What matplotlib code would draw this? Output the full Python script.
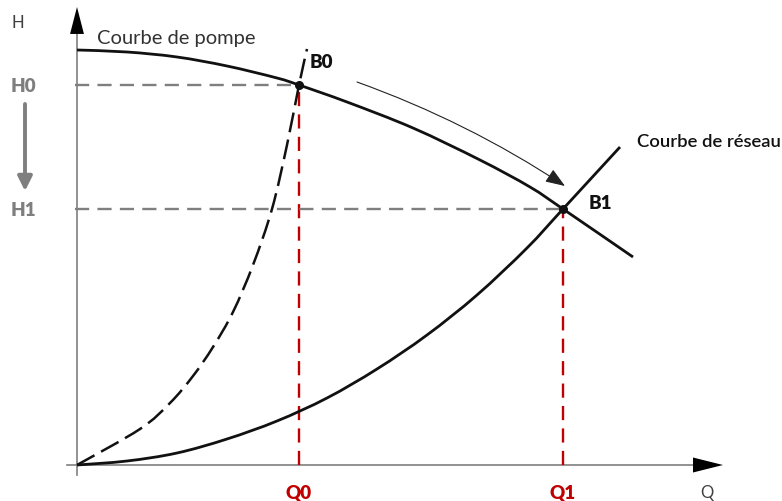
import matplotlib.pyplot as plt
from matplotlib.path import Path
from matplotlib.patches import PathPatch

# pump characteristic (Q, H)
pump_q = [0.0, 0.5, 1.0, 1.5, 2.0, 2.22, 2.70, 3.36, 4.03, 4.53, 4.86, 5.56]
pump_h = [4.15, 4.13, 4.08, 3.99, 3.87, 3.80, 3.63, 3.37, 3.05, 2.78, 2.56, 2.08]

# network curve after throttling (dashed) and final network curve (solid)
net0_q = [0.0, 0.63, 0.93, 1.16, 1.36, 1.56, 1.76, 1.95, 2.10, 2.22, 2.30]
net0_h = [0.0, 0.36, 0.62, 0.89, 1.18, 1.53, 2.00, 2.56, 3.20, 3.80, 4.16]

net1_q = [0.0, 0.5, 1.0, 1.5, 2.0, 2.5, 3.0, 3.5, 4.0, 4.5, 4.86, 5.43]
net1_h = [0.0, 0.04, 0.12, 0.26, 0.44, 0.67, 0.96, 1.30, 1.70, 2.17, 2.56, 3.18]

# operating points
op_q = [2.22, 4.86]
op_h = [3.80, 2.56]
op_labels = ["B0", "B1"]
q_labels = ["Q0", "Q1"]
h_labels = ["H0", "H1"]

GRAY = "#7f7f7f"
RED = "#c00000"
INK = "#111111"

plt.rcParams["font.family"] = ["Lato", "DejaVu Sans"]


def smooth_curve(xs, ys, **kw):
    # Catmull-Rom through the points, drawn as cubic Bezier segments
    pts = list(zip(xs, ys))
    verts = [pts[0]]
    codes = [Path.MOVETO]
    n = len(pts)
    for i in range(n - 1):
        p0 = pts[max(i - 1, 0)]
        p1 = pts[i]
        p2 = pts[i + 1]
        p3 = pts[min(i + 2, n - 1)]
        c1 = (p1[0] + (p2[0] - p0[0]) / 6, p1[1] + (p2[1] - p0[1]) / 6)
        c2 = (p2[0] - (p3[0] - p1[0]) / 6, p2[1] - (p3[1] - p1[1]) / 6)
        verts += [c1, c2, p2]
        codes += [Path.CURVE4] * 3
    return PathPatch(Path(verts, codes), fill=False, **kw)


fig = plt.figure(figsize=(7.82, 5.02), dpi=100)
ax = fig.add_axes([0, 0, 1, 1])
ax.set_xlim(-0.77, 7.05)
ax.set_ylim(-0.36, 4.66)
ax.axis("off")

# axes with arrow heads
ax.plot([0, 0], [-0.1, 4.35], color=GRAY, lw=1.2, zorder=1)
ax.plot([-0.1, 6.2], [0, 0], color=GRAY, lw=1.2, zorder=1)
ax.annotate("", xy=(0, 4.58), xytext=(0, 4.31),
            arrowprops=dict(arrowstyle="-|>,head_length=1.94,head_width=0.5",
                            mutation_scale=10, color="black", lw=0,
                            shrinkA=0, shrinkB=0))
ax.annotate("", xy=(6.46, 0), xytext=(6.16, 0),
            arrowprops=dict(arrowstyle="-|>,head_length=2.16,head_width=0.54",
                            mutation_scale=10, color="black", lw=0,
                            shrinkA=0, shrinkB=0))

# guide lines to the operating points
for q, h in zip(op_q, op_h):
    ax.plot([-0.02, q], [h, h], color=GRAY, lw=1.7, dashes=(6, 3.5), zorder=2)
    ax.plot([q, q], [0, h], color=RED, lw=1.7, dashes=(6, 3.5), zorder=2)

# curves
ax.add_patch(smooth_curve(pump_q, pump_h, edgecolor=INK, lw=2.0, zorder=3))
ax.add_patch(smooth_curve(net1_q, net1_h, edgecolor=INK, lw=2.0, zorder=3))
ax.add_patch(smooth_curve(net0_q, net0_h, edgecolor=INK, lw=1.8,
                          linestyle=(0, (8, 3)), zorder=3))
ax.plot(op_q, op_h, "o", color=INK, ms=5.5, zorder=4)

# displacement of the operating point along the pump curve
ax.annotate("", xy=(4.88, 2.79), xytext=(2.80, 3.83),
            arrowprops=dict(arrowstyle="-|>,head_length=1.2,head_width=0.45",
                            mutation_scale=10, color="#222222", lw=0.8,
                            connectionstyle="arc3,rad=-0.06",
                            shrinkA=0, shrinkB=0))

# head drop arrow
ax.annotate("", xy=(-0.52, 2.74), xytext=(-0.52, 3.61),
            arrowprops=dict(arrowstyle="-|>,head_length=0.86,head_width=0.43",
                            mutation_scale=10, color=GRAY, lw=2.8,
                            shrinkA=0, shrinkB=0))

# labels
ax.text(-0.59, 4.43, "H", fontsize=12, color="#404040", ha="center", va="center")
ax.text(6.30, -0.27, "Q", fontsize=12, color="#404040", ha="center", va="center")
ax.text(0.2, 4.22, "Courbe de pompe", fontsize=14.5, color="#333333",
        ha="left", va="baseline")
ax.text(5.60, 3.19, "Courbe de réseau", fontsize=13.3, color=INK,
        fontweight="semibold", ha="left", va="baseline")

ax.text(op_q[0] + 0.22, op_h[0] + 0.24, op_labels[0], fontsize=13.5,
        fontweight="heavy", color=INK, ha="center", va="center")
ax.text(op_q[1] + 0.37, op_h[1] + 0.06, op_labels[1], fontsize=13.5,
        fontweight="heavy", color=INK, ha="center", va="center")

for q, lab in zip(op_q, q_labels):
    ax.text(q, -0.27, lab, fontsize=13.5, fontweight="heavy", color=RED,
            ha="center", va="center")
for h, lab in zip(op_h, h_labels):
    ax.text(-0.54, h, lab, fontsize=13.5, fontweight="heavy", color=GRAY,
            ha="center", va="center")

fig.savefig("out.png", dpi=100)
